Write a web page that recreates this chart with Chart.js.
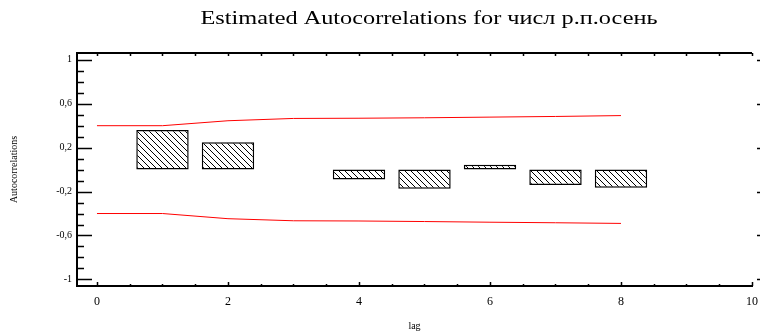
<!DOCTYPE html>
<html>
<head>
<meta charset="utf-8">
<script src="https://cdn.jsdelivr.net/npm/chart.js@4.4.1/dist/chart.umd.min.js"></script>
<style>
  html, body { margin: 0; padding: 0; background: #fff; }
  #wrap { width: 760px; height: 336px; position: relative; }
</style>
</head>
<body>
<div id="wrap"><canvas id="acf"></canvas></div>
<script>
const titleText = 'Estimated Autocorrelations for числ р.п.осень';

// autocorrelations by lag
const lags = [1, 2, 3, 4, 5, 6, 7, 8];
const acf = [0.36, 0.25, 0.0, -0.09, -0.175, 0.045, -0.14, -0.165];

// probability limits
const limitLags = [0, 1, 2, 3, 4, 5, 6, 7, 8];
const upperLimit = [0.40, 0.40, 0.445, 0.466, 0.468, 0.472, 0.478, 0.484, 0.492];
const lowerLimit = [-0.40, -0.40, -0.447, -0.466, -0.468, -0.473, -0.479, -0.484, -0.49];

const xTicks = [0, 2, 4, 6, 8, 10];
const yTicks = [1, 0.6, 0.2, -0.2, -0.6, -1];

function hatch() {
  const n = 6;
  const c = document.createElement('canvas');
  c.width = n; c.height = n;
  const g = c.getContext('2d');
  g.fillStyle = '#fff';
  g.fillRect(0, 0, n, n);
  g.strokeStyle = '#000';
  g.lineWidth = 1;
  g.beginPath();
  g.moveTo(-1, -1); g.lineTo(n + 1, n + 1);
  g.moveTo(-1, n - 1); g.lineTo(1, n + 1);
  g.moveTo(n - 1, -1); g.lineTo(n + 1, 1);
  g.stroke();
  return g.createPattern(c, 'repeat');
}

const serif = '"Liberation Serif", "Times New Roman", serif';

// frame, inward ticks and title
const framePlugin = {
  id: 'frame',
  afterDraw(chart) {
    const { ctx, chartArea: a, scales: { x, y } } = chart;
    ctx.save();
    ctx.strokeStyle = '#000';
    ctx.lineWidth = 2;
    ctx.beginPath();
    ctx.moveTo(a.left, a.top); ctx.lineTo(a.right, a.top);
    ctx.stroke();

    ctx.lineWidth = 1.5;
    ctx.beginPath();
    // y ticks, left side (minor every 0.1)
    for (let i = -10; i <= 10; i++) {
      const v = i / 10;
      const py = Math.round(y.getPixelForValue(v)) + 0.5;
      const major = yTicks.some(t => Math.abs(t - v) < 1e-9);
      ctx.moveTo(a.left, py); ctx.lineTo(a.left + (major ? 15 : 7), py);
      if (major) { ctx.moveTo(a.right + 5, py); ctx.lineTo(a.right + 9, py); }
    }
    // x ticks, bottom and top (every 0.5)
    for (let i = 0; i <= 20; i++) {
      const v = i / 2;
      const px = Math.round(x.getPixelForValue(v)) + 0.5;
      const major = xTicks.includes(v);
      ctx.moveTo(px, a.bottom); ctx.lineTo(px, a.bottom - (major ? 4 : 2));
      ctx.moveTo(px, a.top); ctx.lineTo(px, a.top + 3);
    }
    ctx.stroke();

    // title, stretched to the width it has in the original
    ctx.fillStyle = '#000';
    ctx.font = '18px ' + serif;
    ctx.textAlign = 'center';
    ctx.textBaseline = 'middle';
    const w = ctx.measureText(titleText).width;
    ctx.translate(429, 19);
    ctx.scale(457 / w, 1);
    ctx.fillText(titleText, 0, 0);
    ctx.restore();
  }
};

new Chart(document.getElementById('acf'), {
  type: 'bar',
  data: {
    datasets: [
      {
        type: 'line',
        data: limitLags.map((l, i) => ({ x: l, y: upperLimit[i] })),
        borderColor: '#ff0000',
        borderWidth: 1,
        pointRadius: 0,
        tension: 0
      },
      {
        type: 'line',
        data: limitLags.map((l, i) => ({ x: l, y: lowerLimit[i] })),
        borderColor: '#ff0000',
        borderWidth: 1,
        pointRadius: 0,
        tension: 0
      },
      {
        type: 'bar',
        data: lags.map((l, i) => ({ x: l, y: acf[i] })),
        backgroundColor: hatch(),
        borderColor: '#000',
        borderWidth: 1.5,
        borderSkipped: false,
        categoryPercentage: 1,
        barPercentage: 0.8
      }
    ]
  },
  options: {
    responsive: true,
    maintainAspectRatio: false,
    animation: false,
    layout: { padding: { top: 53, right: 8, left: 0, bottom: 0 } },
    plugins: {
      legend: { display: false },
      tooltip: { enabled: false }
    },
    scales: {
      x: {
        type: 'linear',
        offset: false,
        min: -0.305,
        max: 10,
        afterBuildTicks: s => { s.ticks = xTicks.map(v => ({ value: v })); },
        afterFit: s => { s.height = 50; s.paddingLeft = 0; s.paddingRight = 0; },
        grid: { display: false, drawTicks: false },
        border: { display: true, color: '#000', width: 2 },
        ticks: {
          padding: 9,
          color: '#000',
          font: { family: serif, size: 12 }
        },
        title: {
          display: true,
          text: 'lag',
          color: '#000',
          font: { family: serif, size: 10 },
          padding: { top: 0, bottom: 4 }
        }
      },
      y: {
        min: -1.06,
        max: 1.062,
        afterBuildTicks: s => { s.ticks = yTicks.map(v => ({ value: v })); },
        afterFit: s => { s.width = 77; s.paddingTop = 0; s.paddingBottom = 0; },
        grid: { display: false, drawTicks: false },
        border: { display: true, color: '#000', width: 2 },
        ticks: {
          padding: 5,
          color: '#000',
          font: { family: serif, size: 10 },
          callback: v => String(v).replace('.', ',')
        },
        title: {
          display: true,
          text: 'Autocorrelations',
          color: '#000',
          font: { family: serif, size: 10 },
          padding: { top: 8, bottom: 0 }
        }
      }
    }
  },
  plugins: [framePlugin]
});
</script>
</body>
</html>
